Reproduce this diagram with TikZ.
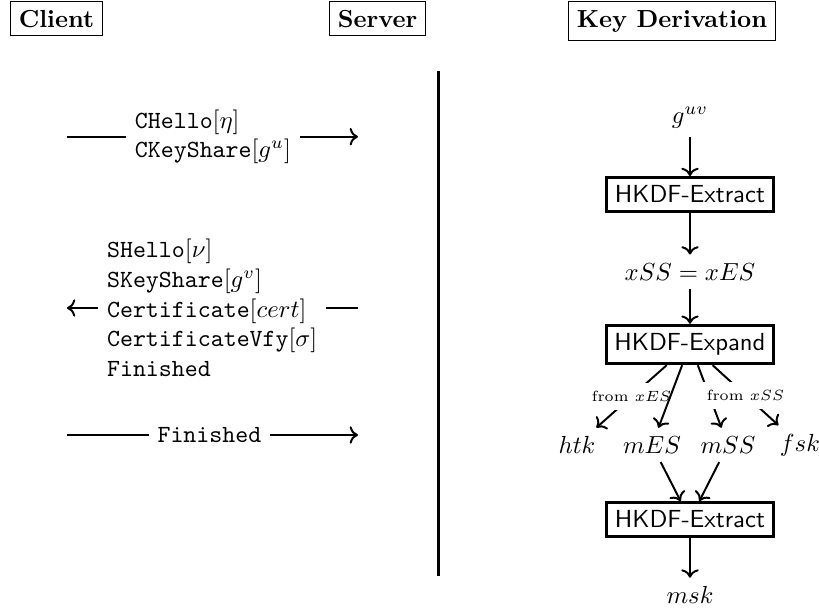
\documentclass[tikz,border=0pt]{standalone}
\usepackage{tikz}
\usetikzlibrary{arrows.meta,positioning,calc}
\tikzset{
  header/.style={draw,font=\bfseries,anchor=north},
  kdf/.style={draw,very thick,font=\sffamily},
  msg/.style={align=left},
  flow/.style={->,thick},
  fromlabel/.style={midway,fill=white,font=\fontsize{6pt}{7pt}\selectfont}
}

\begin{document}
\begin{tikzpicture}
  \useasboundingbox (0,0) rectangle (11.655,-8.666);

  \node[header] (client) at (0.804,-0.02) {Client};
  \node[header] (server) at (5.372,-0.02) {Server};
  \node[header] (keyder) at (9.563,-0.02) {Key Derivation};

  \draw[very thick] (6.237,-1.010) -- (6.237,-8.196);

  \node[msg] (chello) at (3.03,-1.945)
    {\texttt{CHello}$[\eta]$\\\texttt{CKeyShare}$[g^u]$};
  \coordinate (c1) at (0.953,-1.945);
  \coordinate (s1) at (5.094,-1.945);
  \draw[thick] (c1) -- (chello);
  \draw[flow] (chello) -- (s1);

  \node[msg] (shello) at (3.02,-4.383)
    {\texttt{SHello}$[\nu]$\\\texttt{SKeyShare}$[g^v]$\\
     \texttt{Certificate}$[cert]$\\\texttt{CertificateVfy}$[\sigma]$\\
     \texttt{Finished}};
  \coordinate (c2) at (0.953,-4.383);
  \coordinate (s2) at (5.094,-4.383);
  \draw[thick] (s2) -- (shello);
  \draw[flow] (shello) -- (c2);

  \node (cfin) at (2.98,-6.19) {\texttt{Finished}};
  \coordinate (c3) at (0.953,-6.19);
  \coordinate (s3) at (5.094,-6.19);
  \draw[thick] (c3) -- (cfin);
  \draw[flow] (cfin) -- (s3);

  \node (guv) at (9.819,-1.679) {$g^{uv}$};
  \node[kdf] (ext1) at (9.819,-2.768) {HKDF-Extract};
  \node (xss) at (9.819,-3.866) {$xSS = xES$};
  \node[kdf] (expand) at (9.819,-4.902) {HKDF-Expand};
  \node (htk) at (8.211,-6.332) {$htk$};
  \node (mes) at (9.278,-6.332) {$mES$};
  \node (mss) at (10.359,-6.332) {$mSS$};
  \node (fsk) at (11.384,-6.332) {$fsk$};
  \node[kdf] (ext2) at (9.819,-7.393) {HKDF-Extract};
  \node (msk) at (9.819,-8.467) {$msk$};

  \draw[flow] (guv) -- (ext1);
  \draw[flow] (ext1) -- (xss);
  \draw[flow] (xss) -- (expand);
  \draw[flow] (expand) -- (mss);
  \draw[flow] (expand) -- node[fromlabel] {from $xES$} (htk);
  \draw[flow] (expand) -- node[fromlabel] {from $xSS$} (fsk);
  \draw[flow] (expand) -- (mes);
  \draw[flow] (mes) -- (ext2);
  \draw[flow] (mss) -- (ext2);
  \draw[flow] (ext2) -- (msk);
\end{tikzpicture}
\end{document}
